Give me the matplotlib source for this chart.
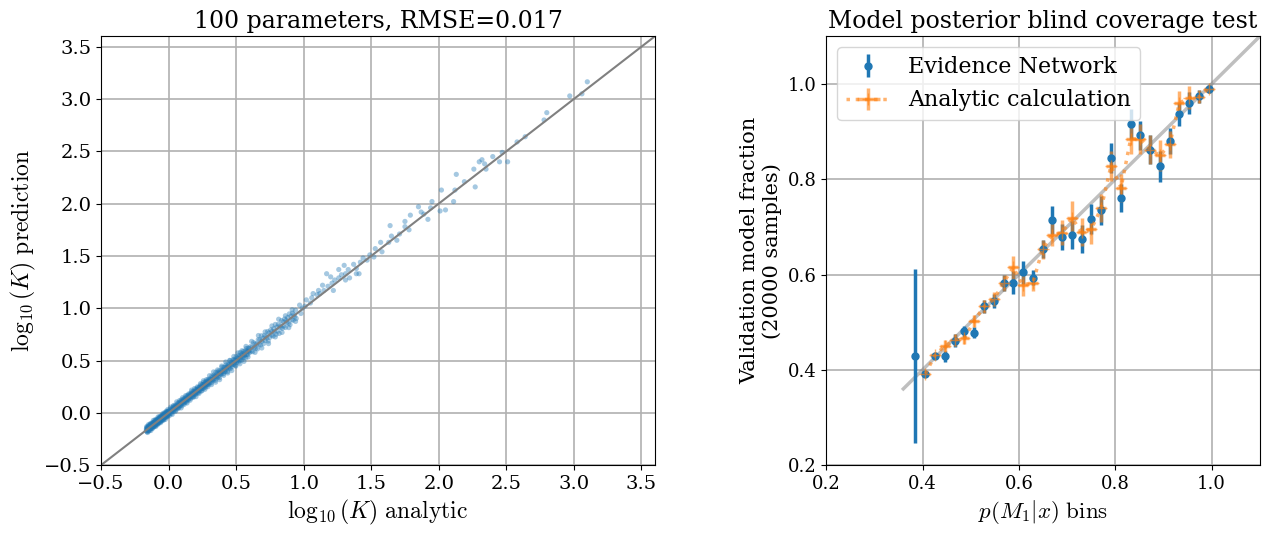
import matplotlib
matplotlib.use("Agg")
import matplotlib.pyplot as plt

plt.rcParams['font.family'] = ['DejaVu Serif']
plt.rcParams['mathtext.fontset'] = 'cm'

# ---- left panel: predicted vs analytic log10(K) ----
k_analytic = [
    -0.164, -0.161, -0.158, -0.156, -0.153, -0.149, -0.147, -0.144, -0.141, -0.138,
    -0.135, -0.132, -0.129, -0.126, -0.122, -0.120, -0.117, -0.114, -0.110, -0.108,
    -0.105, -0.102, -0.099, -0.096, -0.093, -0.090, -0.087, -0.084, -0.081, -0.078,
    -0.075, -0.072, -0.068, -0.066, -0.063, -0.060, -0.057, -0.054, -0.051, -0.048,
    -0.045, -0.042, -0.039, -0.036, -0.033, -0.030, -0.027, -0.024, -0.021, -0.018,
    -0.015, -0.012, -0.009, -0.006, -0.003,
    -0.163, -0.160, -0.157, -0.154, -0.151, -0.148, -0.145, -0.142, -0.139, -0.136,
    -0.133, -0.130, -0.127, -0.124, -0.121, -0.118, -0.115, -0.112, -0.109, -0.106,
    -0.103, -0.100, -0.097, -0.094, -0.091, -0.088, -0.085, -0.082, -0.079, -0.076,
    -0.073, -0.070, -0.067, -0.064, -0.061, -0.058, -0.055, -0.052, -0.049, -0.046,
    -0.043, -0.040, -0.037, -0.034, -0.031, -0.028, -0.025, -0.022, -0.019, -0.016,
    -0.013, -0.010, -0.007, -0.004, -0.001,
    -0.162, -0.155, -0.150, -0.143, -0.137, -0.131, -0.125, -0.119, -0.113, -0.107,
    -0.101, -0.095, -0.089, -0.083, -0.077, -0.071, -0.065, -0.059, -0.053, -0.047,
    -0.041, -0.035, -0.029, -0.023, -0.017, -0.011, -0.005,
    -0.165, -0.159, -0.152, -0.146, -0.140, -0.134, -0.128, -0.119, -0.113, -0.107,
    -0.101, -0.092, -0.086, -0.080, -0.074, -0.068, -0.062, -0.056, -0.050, -0.044,
    -0.038, -0.032, -0.026, -0.020, -0.014, -0.008, -0.002,
    0.002, 0.007, 0.013, 0.018, 0.024, 0.029, 0.035, 0.040, 0.046, 0.051,
    0.057, 0.062, 0.068, 0.073, 0.079, 0.084, 0.090, 0.095, 0.101, 0.106,
    0.112, 0.117, 0.123, 0.128, 0.134, 0.139, 0.145, 0.150, 0.156, 0.161,
    0.167, 0.172, 0.178, 0.183, 0.189, 0.194, 0.200, 0.205, 0.211, 0.216,
    0.222, 0.227, 0.233, 0.238, 0.244, 0.249, 0.255, 0.260, 0.266, 0.271,
    0.277, 0.282, 0.288, 0.293, 0.299,
    0.004, 0.010, 0.015, 0.021, 0.026, 0.032, 0.037, 0.043, 0.048, 0.054,
    0.059, 0.065, 0.070, 0.076, 0.081, 0.087, 0.092, 0.098, 0.103, 0.109,
    0.114, 0.120, 0.125, 0.131, 0.136, 0.142, 0.147, 0.153, 0.158, 0.164,
    0.169, 0.175, 0.180, 0.186, 0.191, 0.197, 0.202, 0.208, 0.213, 0.219,
    0.224, 0.230, 0.235, 0.241, 0.246, 0.252, 0.257, 0.263, 0.268, 0.274,
    0.279, 0.285, 0.290, 0.296, 0.301,
    0.005, 0.016, 0.027, 0.038, 0.049, 0.060, 0.071, 0.082, 0.093, 0.104,
    0.115, 0.126, 0.137, 0.148, 0.159, 0.170, 0.181, 0.192, 0.203, 0.214,
    0.225, 0.236, 0.247, 0.258, 0.269, 0.280, 0.291,
    0.008, 0.019, 0.030, 0.041, 0.052, 0.063, 0.074, 0.085, 0.096, 0.107,
    0.118, 0.129, 0.140, 0.151, 0.162, 0.173, 0.184, 0.195, 0.206, 0.217,
    0.228, 0.239, 0.250, 0.261, 0.272, 0.283, 0.294,
    0.305, 0.312, 0.320, 0.327, 0.335, 0.342, 0.350, 0.357, 0.365, 0.372,
    0.380, 0.387, 0.395, 0.402, 0.410, 0.417, 0.425, 0.432, 0.440, 0.447,
    0.455, 0.462, 0.470, 0.477, 0.485, 0.492, 0.500, 0.507, 0.515, 0.522,
    0.530, 0.537, 0.545, 0.552, 0.560, 0.567, 0.575, 0.582, 0.590, 0.597,
    0.308, 0.316, 0.323, 0.331, 0.338, 0.346, 0.353, 0.361, 0.368, 0.376,
    0.383, 0.391, 0.398, 0.406, 0.413, 0.421, 0.428, 0.436, 0.443, 0.451,
    0.458, 0.466, 0.473, 0.481, 0.488, 0.496, 0.503, 0.511, 0.518, 0.526,
    0.533, 0.541, 0.548, 0.556, 0.563, 0.571, 0.578, 0.586, 0.593, 0.600,
    0.303, 0.318, 0.333, 0.348, 0.363, 0.378, 0.393, 0.408, 0.423, 0.438,
    0.453, 0.468, 0.483, 0.498, 0.513, 0.528, 0.543, 0.558, 0.573, 0.588,
    0.310, 0.325, 0.340, 0.355, 0.370, 0.385, 0.400, 0.415, 0.430, 0.445,
    0.460, 0.475, 0.490, 0.505, 0.520, 0.535, 0.550, 0.565, 0.580, 0.595,
    0.606, 0.618, 0.629, 0.641, 0.652, 0.664, 0.675, 0.687, 0.698, 0.710,
    0.721, 0.733, 0.744, 0.756, 0.767, 0.779, 0.790, 0.802, 0.813, 0.825,
    0.836, 0.848, 0.859, 0.871, 0.882, 0.894, 0.905, 0.917, 0.928, 0.940,
    0.612, 0.623, 0.635, 0.646, 0.658, 0.669, 0.681, 0.692, 0.704, 0.715,
    0.727, 0.738, 0.750, 0.761, 0.773, 0.784, 0.796, 0.807, 0.819, 0.830,
    0.842, 0.853, 0.865, 0.876, 0.888, 0.899, 0.911, 0.922, 0.934, 0.945,
    0.615, 0.640, 0.665, 0.690, 0.715, 0.740, 0.765, 0.790, 0.815, 0.840,
    0.865, 0.890, 0.915, 0.940,
    0.97, 0.98, 0.99, 1.01, 1.02, 1.05, 1.06, 1.07, 1.10, 1.11,
    1.12, 1.14, 1.15, 1.17, 1.18, 1.20, 1.21, 1.22, 1.23, 1.26,
    1.26, 1.28, 1.30, 1.31, 1.31, 1.33, 1.34, 1.37, 1.39, 1.39,
    1.41, 1.42, 1.44, 1.47, 1.49, 1.52, 1.53, 1.57, 1.58, 1.63,
    1.64, 1.65, 1.69, 1.71, 1.75, 1.75, 1.78, 1.79, 1.85, 1.87,
    1.89, 1.92, 1.94, 1.95, 2.01, 2.02, 2.05, 2.11, 2.12, 2.13,
    2.19, 2.26, 2.27, 2.30, 2.32, 2.34, 2.35, 2.40, 2.45, 2.47,
    2.51, 2.58, 2.64, 2.78, 2.80, 2.97, 3.06, 3.10,
]
k_pred = [
    -0.152, -0.140, -0.154, -0.139, -0.144, -0.126, -0.145, -0.130, -0.122, -0.131,
    -0.111, -0.121, -0.113, -0.123, -0.102, -0.107, -0.109, -0.092, -0.105, -0.093,
    -0.087, -0.092, -0.075, -0.090, -0.080, -0.071, -0.085, -0.068, -0.070, -0.057,
    -0.068, -0.058, -0.045, -0.062, -0.046, -0.051, -0.037, -0.042, -0.048, -0.030,
    -0.020, -0.034, -0.024, -0.025, -0.011, -0.025, -0.011, -0.014, -0.002, -0.012,
    0.009, 0.001, -0.001, 0.014, 0.011,
    -0.174, -0.182, -0.162, -0.170, -0.176, -0.156, -0.164, -0.145, -0.152, -0.157,
    -0.140, -0.147, -0.151, -0.134, -0.123, -0.136, -0.127, -0.135, -0.115, -0.121,
    -0.123, -0.109, -0.111, -0.118, -0.095, -0.105, -0.096, -0.103, -0.086, -0.091,
    -0.096, -0.080, -0.069, -0.083, -0.074, -0.083, -0.063, -0.068, -0.070, -0.051,
    -0.055, -0.058, -0.061, -0.043, -0.046, -0.031, -0.045, -0.033, -0.036, -0.022,
    -0.035, -0.024, -0.016, -0.023, -0.005,
    -0.132, -0.188, -0.114, -0.172, -0.105, -0.169, -0.097, -0.150, -0.073, -0.134,
    -0.067, -0.131, -0.060, -0.115, -0.039, -0.099, -0.034, -0.094, -0.026, -0.077,
    -0.005, -0.068, 0.001, -0.062, 0.016, -0.040, 0.032,
    -0.168, -0.153, -0.160, -0.144, -0.145, -0.125, -0.129, -0.115, -0.122, -0.100,
    -0.105, -0.091, -0.093, -0.072, -0.076, -0.063, -0.072, -0.053, -0.056, -0.034,
    -0.041, -0.026, -0.034, -0.018, -0.019, 0.001, -0.003,
    0.019, 0.013, 0.037, 0.029, 0.027, 0.048, 0.062, 0.049, 0.061, 0.073,
    0.062, 0.075, 0.094, 0.091, 0.087, 0.105, 0.102, 0.124, 0.105, 0.122,
    0.135, 0.127, 0.142, 0.135, 0.162, 0.153, 0.165, 0.152, 0.181, 0.172,
    0.184, 0.202, 0.186, 0.205, 0.202, 0.199, 0.226, 0.221, 0.221, 0.240,
    0.225, 0.246, 0.245, 0.267, 0.251, 0.270, 0.270, 0.292, 0.275, 0.289,
    0.302, 0.286, 0.302, 0.320, 0.310,
    -0.008, -0.011, 0.010, -0.006, 0.012, 0.024, 0.014, 0.027, 0.045, 0.025,
    0.048, 0.046, 0.064, 0.051, 0.068, 0.067, 0.083, 0.067, 0.088, 0.105,
    0.092, 0.103, 0.115, 0.103, 0.129, 0.124, 0.123, 0.141, 0.155, 0.138,
    0.155, 0.155, 0.172, 0.156, 0.175, 0.186, 0.178, 0.203, 0.194, 0.192,
    0.211, 0.209, 0.228, 0.208, 0.231, 0.242, 0.232, 0.245, 0.264, 0.245,
    0.267, 0.265, 0.282, 0.270, 0.285,
    -0.029, 0.055, -0.015, 0.071, 0.012, 0.105, 0.040, 0.118, 0.047, 0.145,
    0.080, 0.164, 0.094, 0.180, 0.120, 0.217, 0.147, 0.232, 0.155, 0.249,
    0.185, 0.279, 0.211, 0.307, 0.225, 0.317, 0.250,
    0.012, 0.012, 0.039, 0.039, 0.058, 0.054, 0.075, 0.080, 0.106, 0.104,
    0.125, 0.121, 0.143, 0.145, 0.170, 0.172, 0.189, 0.185, 0.208, 0.213,
    0.237, 0.232, 0.254, 0.259, 0.278, 0.274, 0.295,
    0.326, 0.320, 0.353, 0.342, 0.361, 0.346, 0.388, 0.369, 0.388, 0.402,
    0.386, 0.405, 0.436, 0.412, 0.437, 0.433, 0.460, 0.435, 0.462, 0.460,
    0.499, 0.481, 0.478, 0.508, 0.509, 0.503, 0.537, 0.524, 0.520, 0.550,
    0.576, 0.551, 0.566, 0.586, 0.569, 0.592, 0.615, 0.594, 0.619, 0.615,
    0.291, 0.286, 0.317, 0.309, 0.325, 0.311, 0.344, 0.335, 0.350, 0.336,
    0.372, 0.367, 0.394, 0.374, 0.394, 0.394, 0.420, 0.393, 0.428, 0.428,
    0.422, 0.456, 0.444, 0.463, 0.483, 0.455, 0.482, 0.499, 0.485, 0.501,
    0.526, 0.503, 0.532, 0.528, 0.552, 0.526, 0.558, 0.555, 0.584, 0.576,
    0.355, 0.270, 0.391, 0.293, 0.410, 0.317, 0.447, 0.358, 0.486, 0.381,
    0.502, 0.404, 0.539, 0.446, 0.573, 0.469, 0.594, 0.492, 0.635, 0.534,
    0.315, 0.317, 0.351, 0.352, 0.377, 0.373, 0.402, 0.409, 0.440, 0.444,
    0.464, 0.465, 0.498, 0.501, 0.532, 0.528, 0.551, 0.554, 0.586, 0.593,
    0.633, 0.629, 0.671, 0.660, 0.658, 0.699, 0.698, 0.737, 0.712, 0.741,
    0.729, 0.777, 0.764, 0.793, 0.779, 0.805, 0.845, 0.819, 0.846, 0.830,
    0.882, 0.870, 0.897, 0.884, 0.911, 0.946, 0.923, 0.953, 0.937, 0.981,
    0.591, 0.585, 0.625, 0.617, 0.611, 0.653, 0.648, 0.685, 0.662, 0.691,
    0.714, 0.687, 0.722, 0.743, 0.734, 0.775, 0.751, 0.781, 0.759, 0.815,
    0.808, 0.831, 0.816, 0.865, 0.857, 0.843, 0.891, 0.885, 0.920, 0.902,
    0.683, 0.578, 0.739, 0.620, 0.774, 0.662, 0.831, 0.726, 0.895, 0.769,
    0.928, 0.815, 0.985, 0.874,
    1.03, 0.95, 1.00, 1.02, 1.08, 1.05, 1.10, 1.14, 1.13, 1.17,
    1.14, 1.22, 1.17, 1.33, 1.21, 1.30, 1.24, 1.17, 1.27, 1.29,
    1.37, 1.32, 1.41, 1.33, 1.27, 1.37, 1.29, 1.42, 1.38, 1.33,
    1.33, 1.44, 1.48, 1.46, 1.51, 1.49, 1.57, 1.63, 1.54, 1.63,
    1.79, 1.69, 1.65, 1.71, 1.83, 1.78, 1.75, 1.89, 1.97, 1.92,
    1.90, 1.85, 1.96, 2.02, 1.93, 2.13, 1.94, 2.02, 2.13, 2.28,
    2.21, 2.33, 2.16, 2.40, 2.42, 2.38, 2.33, 2.45, 2.40, 2.49,
    2.40, 2.59, 2.64, 2.80, 2.87, 3.03, 3.05, 3.165,
]
rmse = 0.017
n_params = 100

# ---- right panel: coverage test ----
bin_centres = [
    0.385, 0.406, 0.426, 0.446, 0.467, 0.487, 0.507, 0.528, 0.548, 0.568,
    0.588, 0.608, 0.629, 0.649, 0.669, 0.690, 0.710, 0.730, 0.750, 0.771,
    0.791, 0.812, 0.832, 0.852, 0.872, 0.893, 0.913, 0.933, 0.954, 0.974,
    0.994,
]
net_frac = [
    0.429, 0.392, 0.429, 0.428, 0.461, 0.481, 0.478, 0.533, 0.544, 0.583,
    0.583, 0.605, 0.593, 0.653, 0.714, 0.679, 0.683, 0.674, 0.717, 0.735,
    0.845, 0.761, 0.916, 0.892, 0.862, 0.827, 0.881, 0.936, 0.960, 0.974,
    0.989,
]
net_err = [
    0.182, 0.006, 0.007, 0.012, 0.014, 0.012, 0.012, 0.014, 0.015, 0.017,
    0.024, 0.024, 0.016, 0.019, 0.029, 0.028, 0.030, 0.029, 0.031, 0.030,
    0.031, 0.030, 0.031, 0.031, 0.031, 0.033, 0.027, 0.025, 0.024, 0.014,
    0.008,
]
ana_centres = bin_centres[1:]
ana_frac = [
    0.392, 0.431, 0.450, 0.463, 0.466, 0.503, 0.533, 0.548, 0.583,
    0.615, 0.578, 0.583, 0.653, 0.684, 0.688, 0.719, 0.689, 0.695, 0.740,
    0.828, 0.782, 0.885, 0.884, 0.862, 0.850, 0.873, 0.960, 0.971, 0.973,
    0.990,
]
ana_err = [
    0.006, 0.007, 0.012, 0.013, 0.012, 0.013, 0.014, 0.015, 0.017,
    0.024, 0.024, 0.017, 0.020, 0.024, 0.027, 0.035, 0.030, 0.030, 0.030,
    0.032, 0.030, 0.032, 0.031, 0.031, 0.032, 0.028, 0.026, 0.024, 0.014,
    0.008,
]
half_bin = 0.0101

fig = plt.figure(figsize=(12.79, 5.34), dpi=100)
ax1 = fig.add_axes([0.079, 0.129, 0.433, 0.803])
ax2 = fig.add_axes([0.646, 0.129, 0.339, 0.803])

ax1.scatter(k_analytic, k_pred, s=14, alpha=0.4, color='C0', edgecolors='none')
ax1.plot([-0.5, 3.6], [-0.5, 3.6], color='grey', lw=1.5)
ax1.set_xlim(-0.5, 3.6)
ax1.set_ylim(-0.5, 3.6)
ax1.grid(True, color='#b0b0b0', lw=1.2)
ax1.set_axisbelow(True)
ax1.set_title(f"{n_params} parameters, RMSE={rmse}", fontsize=17)
ax1.set_xlabel(r"$\log_{10}(K)\ \mathrm{analytic}$", fontsize=17)
ax1.set_ylabel(r"$\log_{10}(K)\ \mathrm{prediction}$", fontsize=17)
ax1.tick_params(labelsize=14)

ax2.plot([0.36, 1.1], [0.36, 1.1], color='grey', alpha=0.5, lw=2.5)
ax2.errorbar(bin_centres, net_frac, yerr=net_err, fmt='o', color='C0',
             ms=5, lw=2.5, label='Evidence Network')
ax2.errorbar(ana_centres, ana_frac, xerr=half_bin, yerr=ana_err, fmt='+:',
             color='C1', alpha=0.6, ms=8, lw=2.5, label='Analytic calculation')
ax2.set_xlim(0.2, 1.1)
ax2.set_ylim(0.2, 1.1)
ax2.set_xticks([0.2, 0.4, 0.6, 0.8, 1.0])
ax2.set_yticks([0.2, 0.4, 0.6, 0.8, 1.0])
ax2.grid(True, color='#b0b0b0', lw=1.2)
ax2.set_axisbelow(True)
ax2.set_title("Model posterior blind coverage test", fontsize=17)
ax2.set_xlabel(r"$p(M_1|x)\ \mathrm{bins}$", fontsize=16.5)
ax2.set_ylabel("Validation model fraction\n(20000 samples)", fontsize=15)
ax2.tick_params(labelsize=13)
ax2.legend(loc='upper left', fontsize=16)

fig.savefig("out.png", dpi=100)
